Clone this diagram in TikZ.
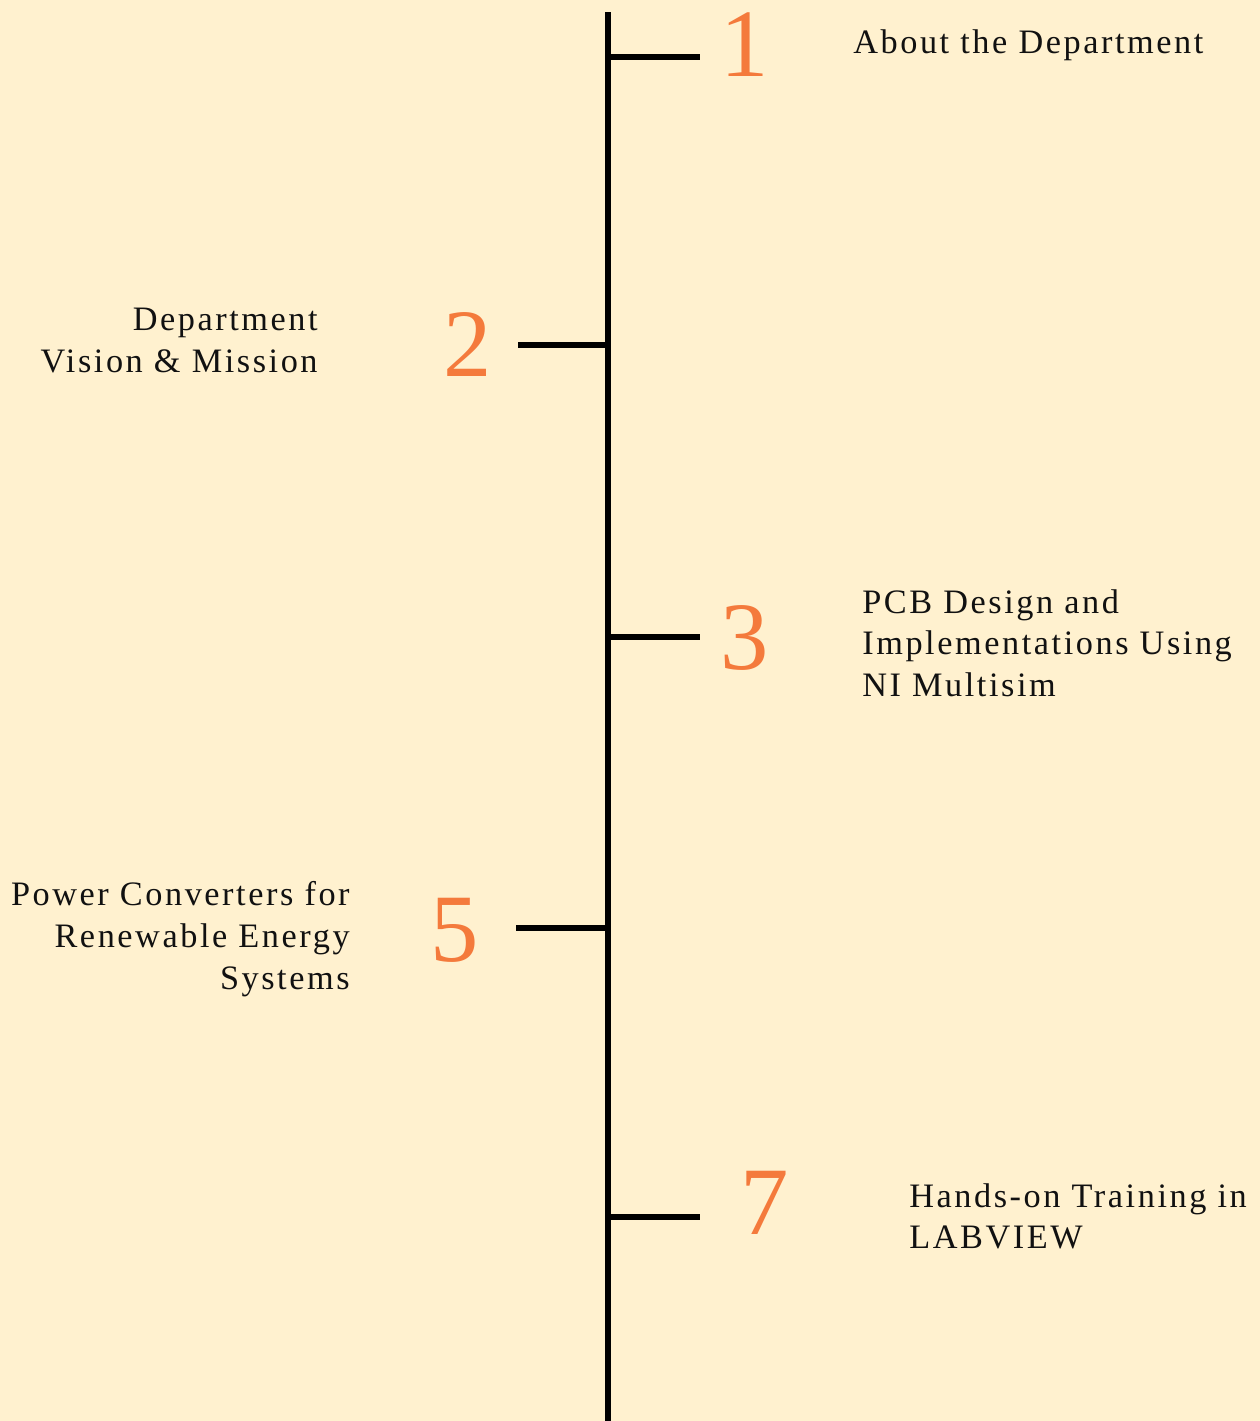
\documentclass[tikz,border=0pt]{standalone}
\usepackage{fontspec}
\setmainfont{Liberation Serif}
\newfontfamily\spaced[LetterSpace=7.5]{Liberation Serif}
\usepackage{xcolor}
\usetikzlibrary{positioning}
\definecolor{paper}{HTML}{FFF1CF}
\definecolor{numcol}{HTML}{F47A3C}
\definecolor{ink}{HTML}{111111}
\tikzset{
    spine/.style={draw=black, line width=2.9pt},
    tickline/.style={draw=black, line width=2.9pt},
    numtxt/.style={text=numcol, inner sep=0pt, font=\fontsize{55}{55}\selectfont},
    topic/.style={text=ink, inner sep=0pt, font=\spaced\fontsize{19.5}{23.8}\selectfont},
}

\begin{document}
\begin{tikzpicture}[x=0.02cm, y=-0.02cm]

  \fill[paper] (0,0) rectangle (1260,1421);
  \useasboundingbox (0,0) rectangle (1260,1421);

  % the spine
  \coordinate (top) at (608,12);
  \coordinate (bottom) at (608,1421);
  \draw[spine] (top) -- (bottom);

  % ticks
  \coordinate (s1) at (608,57);   \coordinate (e1) at (700,57);
  \coordinate (s2) at (608,345);  \coordinate (e2) at (518,345);
  \coordinate (s3) at (608,637);  \coordinate (e3) at (700,637);
  \coordinate (s5) at (608,928);  \coordinate (e5) at (516,928);
  \coordinate (s7) at (608,1217); \coordinate (e7) at (700,1217);

  \draw[tickline] (s1) -- (e1);
  \draw[tickline] (s2) -- (e2);
  \draw[tickline] (s3) -- (e3);
  \draw[tickline] (s5) -- (e5);
  \draw[tickline] (s7) -- (e7);

  % numbers
  \node[numtxt] (n1) at (745,45) {1};
  \node[numtxt] (n2) at (468,344) {2};
  \node[numtxt] (n3) at (745,638) {3};
  \node[numtxt] (n5) at (455,930) {5};
  \node[numtxt] (n7) at (765,1203) {7};

  % topics
  \node[topic, anchor=north west, align=left] (t1) at (853,29) {About the Department};
  \node[topic, anchor=north east, align=right] (t2) at (318,308)
       {Department\\Vision \& Mission};
  \node[topic, anchor=north west, align=left] (t3) at (862,589)
       {PCB Design and\\Implementations Using\\NI Multisim};
  \node[topic, anchor=north east, align=right] (t5) at (350,881)
       {Power Converters for\\Renewable Energy\\Systems};
  \node[topic, anchor=north west, align=left] (t7) at (909,1183)
       {Hands-on Training in\\LABVIEW};

\end{tikzpicture}
\end{document}
